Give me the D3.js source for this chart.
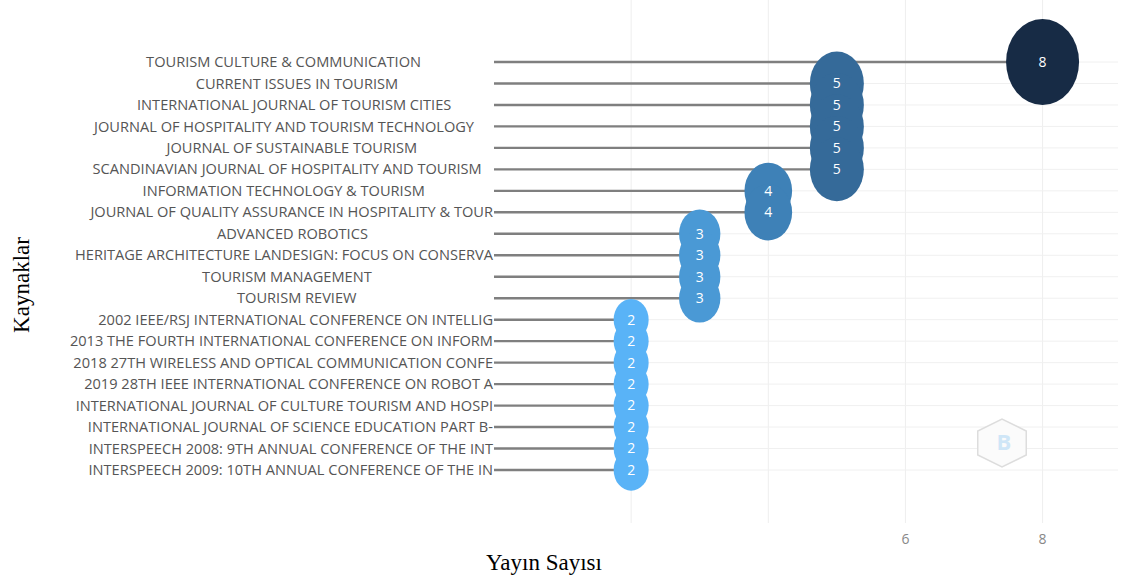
<!DOCTYPE html>
<html>
<head>
<meta charset="UTF-8">
<title>Kaynaklar</title>
<style>
body, html {
	padding: 0;
	margin: 0;
	background: #ffffff;
	overflow: hidden;
}
svg text {
	white-space: pre;
}
</style>
</head>
<body>
<div id="chart"></div>
<script src="https://cdn.jsdelivr.net/npm/d3@7"></script>
<script>
var sources = [
	"TOURISM CULTURE & COMMUNICATION",
	"CURRENT ISSUES IN TOURISM",
	"INTERNATIONAL JOURNAL OF TOURISM CITIES",
	"JOURNAL OF HOSPITALITY AND TOURISM TECHNOLOGY",
	"JOURNAL OF SUSTAINABLE TOURISM",
	"SCANDINAVIAN JOURNAL OF HOSPITALITY AND TOURISM",
	"INFORMATION TECHNOLOGY & TOURISM",
	"JOURNAL OF QUALITY ASSURANCE IN HOSPITALITY & TOUR",
	"ADVANCED ROBOTICS",
	"HERITAGE ARCHITECTURE LANDESIGN: FOCUS ON CONSERVA",
	"TOURISM MANAGEMENT",
	"TOURISM REVIEW",
	"2002 IEEE/RSJ INTERNATIONAL CONFERENCE ON INTELLIG",
	"2013 THE FOURTH INTERNATIONAL CONFERENCE ON INFORM",
	"2018 27TH WIRELESS AND OPTICAL COMMUNICATION CONFE",
	"2019 28TH IEEE INTERNATIONAL CONFERENCE ON ROBOT A",
	"INTERNATIONAL JOURNAL OF CULTURE TOURISM AND HOSPI",
	"INTERNATIONAL JOURNAL OF SCIENCE EDUCATION PART B-",
	"INTERSPEECH 2008: 9TH ANNUAL CONFERENCE OF THE INT",
	"INTERSPEECH 2009: 10TH ANNUAL CONFERENCE OF THE IN"
];
var counts = [8, 5, 5, 5, 5, 5, 4, 4, 3, 3, 3, 3, 2, 2, 2, 2, 2, 2, 2, 2];
var xTicks = [0, 2, 4, 6, 8];

var width = 1123;
var height = 582;
var labelLength = 50;

var svg = d3.select("#chart").append("svg")
	.attr("width", width)
	.attr("height", height);

var x = d3.scaleLinear().domain([0, 9.1]).range([494, 1118]);
var y = d3.scalePoint().domain(sources).range([62, 470]);

var rx = d3.scaleLinear().domain([2, 8]).range([17.5, 36.5]);
var color = d3.scaleLinear()
	.domain([2, 3, 4, 5, 8])
	.range(["#59b3f7", "#4a99d5", "#3e81b7", "#356a99", "#172b45"]);

var rows = sources.map(function(d, i) {return {name: d, value: counts[i]}});

// grid
var grid = svg.append("g").attr("class", "grid");
grid.selectAll("line.v").data(xTicks.slice(1)).enter().append("line")
	.attr("class", "v")
	.attr("x1", function(d) {return x(d)})
	.attr("x2", function(d) {return x(d)})
	.attr("y1", 0)
	.attr("y2", 523)
	.attr("stroke", "#eeeeee")
	.attr("stroke-width", 1);
grid.selectAll("line.h").data(sources).enter().append("line")
	.attr("class", "h")
	.attr("x1", x(0))
	.attr("x2", x.range()[1])
	.attr("y1", function(d) {return y(d)})
	.attr("y2", function(d) {return y(d)})
	.attr("stroke", "#f0f0f0")
	.attr("stroke-width", 1);

// stems
svg.append("g").selectAll("line").data(rows).enter().append("line")
	.attr("x1", x(0))
	.attr("x2", function(d) {return x(d.value)})
	.attr("y1", function(d) {return y(d.name)})
	.attr("y2", function(d) {return y(d.name)})
	.attr("stroke", "#7f7f7f")
	.attr("stroke-width", 2.4);

// labels, padded to a fixed length and right aligned
svg.append("g").selectAll("text").data(rows).enter().append("text")
	.attr("x", x(0) - 1)
	.attr("y", function(d) {return y(d.name)})
	.attr("dy", "0.35em")
	.attr("text-anchor", "end")
	.attr("font-family", "'Open Sans', sans-serif")
	.attr("font-size", 14.6)
	.attr("fill", "#555555")
	.text(function(d) {
		var s = d.name.substring(0, labelLength);
		return s + "\u00A0".repeat(labelLength - s.length);
	});

// bubbles, then all numbers on top
var bubbles = svg.append("g");
bubbles.selectAll("ellipse").data(rows).enter().append("ellipse")
	.attr("cx", function(d) {return x(d.value)})
	.attr("cy", function(d) {return y(d.name)})
	.attr("rx", function(d) {return rx(d.value)})
	.attr("ry", function(d) {return rx(d.value)*1.18})
	.attr("fill", function(d) {return color(d.value)});
bubbles.selectAll("text").data(rows).enter().append("text")
	.attr("x", function(d) {return x(d.value)})
	.attr("y", function(d) {return y(d.name)})
	.attr("dy", "0.35em")
	.attr("text-anchor", "middle")
	.attr("font-family", "'Open Sans', sans-serif")
	.attr("font-size", 14)
	.attr("fill", "#ffffff")
	.text(function(d) {return d.value});

// watermark
var hex = d3.range(6).map(function(i) {
	var a = Math.PI/3*i + Math.PI/6;
	return [1002 + 28*Math.cos(a), 443 + 24*Math.sin(a)];
});
svg.append("polygon")
	.attr("points", hex.map(function(p) {return p.join(",")}).join(" "))
	.attr("fill", "#fbfbfb")
	.attr("stroke", "#dddddd")
	.attr("stroke-width", 1.5);
svg.append("text")
	.attr("x", 1004).attr("y", 450)
	.attr("text-anchor", "middle")
	.attr("font-family", "'Open Sans', sans-serif")
	.attr("font-size", 22)
	.attr("font-weight", "bold")
	.attr("fill", "#cfe6f7")
	.text("B");

// x tick labels
svg.append("g").selectAll("text").data(xTicks).enter().append("text")
	.attr("x", function(d) {return x(d)})
	.attr("y", 544)
	.attr("text-anchor", "middle")
	.attr("font-family", "'Open Sans', sans-serif")
	.attr("font-size", 14)
	.attr("fill", "#888888")
	.text(function(d) {return d});

// pasted axis title covers part of the tick labels
svg.append("rect")
	.attr("x", 470).attr("y", 532)
	.attr("width", 320).attr("height", 50)
	.attr("fill", "#ffffff");
svg.append("text")
	.attr("x", 486).attr("y", 570)
	.attr("font-family", "'Liberation Serif', 'Times New Roman', serif")
	.attr("font-size", 23)
	.attr("fill", "#000000")
	.text("Yayın Sayısı");

svg.append("text")
	.attr("transform", "translate(29,285) rotate(-90)")
	.attr("text-anchor", "middle")
	.attr("font-family", "'Liberation Serif', 'Times New Roman', serif")
	.attr("font-size", 23)
	.attr("fill", "#000000")
	.text("Kaynaklar");
</script>
</body>
</html>
